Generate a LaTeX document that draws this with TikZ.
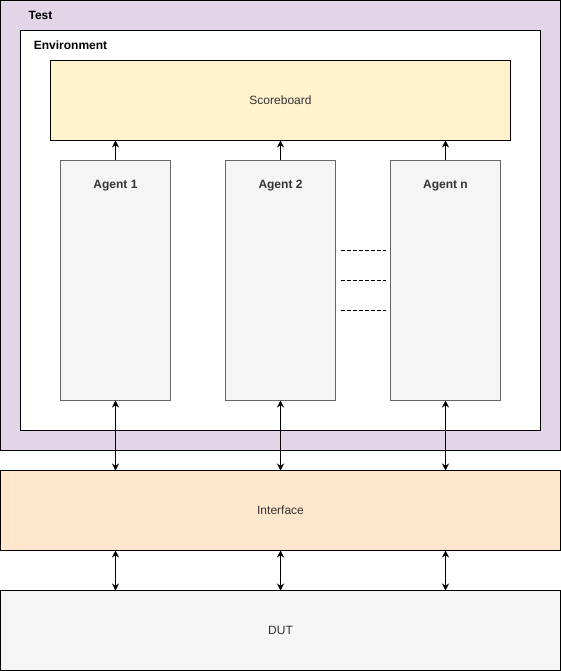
\documentclass[tikz,border=0pt]{standalone}
\usepackage{fontspec}
\setmainfont{Liberation Sans}
\usepackage{xcolor}
\usetikzlibrary{arrows.meta}

\definecolor{testfill}{HTML}{E1D5E7}
\definecolor{scorefill}{HTML}{FFF2CC}
\definecolor{agentfill}{HTML}{F5F5F5}
\definecolor{agentline}{HTML}{666666}
\definecolor{iffill}{HTML}{FFE6CC}
\definecolor{txtgray}{HTML}{333333}

\begin{document}
\begin{tikzpicture}[x=1pt,y=-1pt,line width=1pt,font=\fontsize{12}{14}\selectfont]
\tikzstyle{every node}=[rectangle,inner sep=0pt,outer sep=0pt];
\tikzstyle{blk}=[draw,anchor=north west];
\tikzstyle{agentbox}=[blk,fill=agentfill,draw=agentline,minimum width=110pt,minimum height=240pt];
\tikzstyle{link}=[-{Stealth[length=7pt,width=7pt]}];
\tikzstyle{both}=[{Stealth[length=7pt,width=7pt]}-{Stealth[length=7pt,width=7pt]}];
\useasboundingbox (-0.5,-0.5) rectangle (560.5,670.5);
\path (0,0) node[blk,fill=testfill,minimum width=560pt,minimum height=450pt] (test) {};
\path (40,15) node (testlbl) {\textbf{Test}};
\path (20,30) node[blk,fill=white,minimum width=520pt,minimum height=400pt] (env) {};
\path (70,45) node (envlbl) {\textbf{Environment}};
\path (50,60) node[blk,fill=scorefill,minimum width=460pt,minimum height=80pt,text=txtgray] (score) {};
\path (score.center) node[text=txtgray] (scorelbl) {Scoreboard};
\path (60,160) node[agentbox] (a1) {};
\path (225,160) node[agentbox] (a2) {};
\path (390,160) node[agentbox] (an) {};
\path (115,185) node[text=txtgray] (a1lbl) {\textbf{Agent 1}};
\path (280,185) node[text=txtgray] (a2lbl) {\textbf{Agent 2}};
\path (445,185) node[text=txtgray] (anlbl) {\textbf{Agent n}};
\path (0,470) node[blk,fill=iffill,minimum width=560pt,minimum height=80pt] (iface) {};
\path (iface.center) node[text=txtgray] (ifacelbl) {Interface};
\path (0,590) node[blk,fill=agentfill,minimum width=560pt,minimum height=80pt] (dut) {};
\path (dut.center) node[text=txtgray] (dutlbl) {DUT};
% dashed gap between agents
\foreach \y in {250,280,310}
  \draw[dashed,line width=0.8pt,dash pattern=on 4pt off 2pt] (340,\y) -- (385,\y);
% agents to scoreboard
\draw[link] (a1.north) -- (a1.north |- score.south);
\draw[link] (a2.north) -- (a2.north |- score.south);
\draw[link] (an.north) -- (an.north |- score.south);
% agents to interface
\draw[both] (a1.south) -- (a1.south |- iface.north);
\draw[both] (a2.south) -- (a2.south |- iface.north);
\draw[both] (an.south) -- (an.south |- iface.north);
% interface to DUT
\draw[both] (a1.south |- iface.south) -- (a1.south |- dut.north);
\draw[both] (a2.south |- iface.south) -- (a2.south |- dut.north);
\draw[both] (an.south |- iface.south) -- (an.south |- dut.north);
\end{tikzpicture}
\end{document}
